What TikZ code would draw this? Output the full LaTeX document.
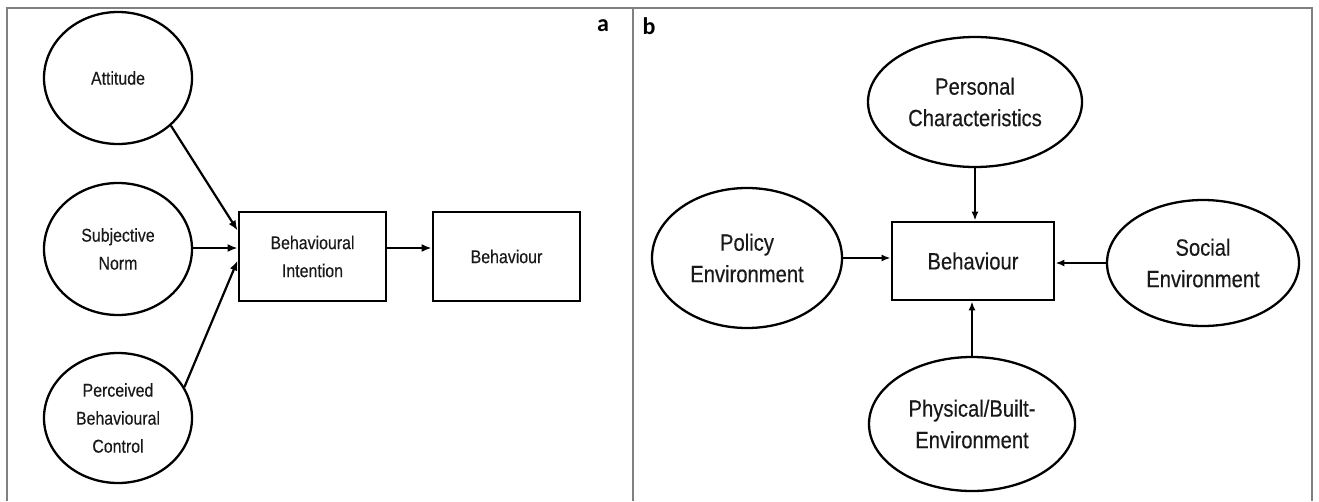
\documentclass[tikz,border=0pt]{standalone}
\usepackage{fontspec}
\setmainfont{Liberation Sans}
\newfontfamily\narrowfont[FakeStretch=0.86,FakeBold=0.35]{Liberation Sans}
\newfontfamily\panelfont{Carlito}
\usetikzlibrary{shapes.geometric,arrows.meta}
\begin{document}
\begin{tikzpicture}[x=1pt,y=-1pt,
  ell/.style={draw, ellipse, line width=2.3pt, inner sep=0pt, align=center, text=black!90},
  fa/.style={font=\narrowfont\fontsize{18.5}{28}\selectfont},
  fb/.style={font=\narrowfont\fontsize{23.5}{31.5}\selectfont},
  boxa/.style={draw, rectangle, line width=2.8pt, inner sep=0pt, align=center, text=black!90},
  arra/.style={-{Latex[length=10pt,width=8pt]}, line width=2.2pt},
  arrb/.style={-{Latex[length=9pt,width=7pt]}, line width=1.9pt},
  framestyle/.style={draw=black!50, line width=1.8pt},
  divstyle/.style={draw=black!50, line width=1.2pt},
  panellabel/.style={font=\panelfont\bfseries\fontsize{24}{24}\selectfont, inner sep=0pt}]
\useasboundingbox (0,0) rectangle (1319,501);
% frame
\draw[framestyle] (7,501) -- (7,8) -- (1312,8) -- (1312,501);
\draw[divstyle] (633,8) -- (633,501);
\node[panellabel] (la) at (603,26) {a};
\node[panellabel] (lb) at (649,26) {b};
% panel a
\node[ell, fa, minimum width=148pt, minimum height=132pt] (att) at (118,78) {Attitude};
\node[ell, fa, minimum width=148pt, minimum height=132pt] (sn) at (118,249) {Subjective\\Norm};
\node[ell, fa, minimum width=148pt, minimum height=130pt] (pbc) at (118,418) {Perceived\\Behavioural\\Control};
\node[boxa, fa, minimum width=147pt, minimum height=89pt] (bi) at (312.5,256.5) {Behavioural\\Intention};
\node[boxa, fa, minimum width=147pt, minimum height=89pt] (bha) at (506.5,256.5) {Behaviour};
\draw[arra] (att.-42) -- ([yshift=26pt]bi.west);
\draw[arra, line width=2.8pt] (sn.east |- 0,248) -- ([yshift=8.5pt]bi.west);
\draw[arra] (pbc.25) -- ([yshift=-4pt]bi.west);
\draw[arra, line width=2.8pt] ([yshift=8.5pt]bi.east) -- ([yshift=8.5pt]bha.west);
% panel b
\node[boxa, fb, minimum width=162pt, minimum height=78pt] (bhb) at (973,261) {Behaviour};
\node[ell, fb, minimum width=214pt, minimum height=130pt] (pc) at (975,102) {Personal\\Characteristics};
\node[ell, fb, minimum width=190pt, minimum height=140pt] (pol) at (747,258) {Policy\\Environment};
\node[ell, fb, minimum width=192pt, minimum height=126pt] (soc) at (1203,263) {Social\\Environment};
\node[ell, fb, minimum width=206pt, minimum height=134pt] (phy) at (972,424) {Physical/Built-\\Environment};
\draw[arrb] (pc.south) -- (pc.south |- bhb.north);
\draw[arrb, line width=2.4pt] (pol.east) -- (pol.east -| bhb.west);
\draw[arrb, line width=2.4pt] (soc.west) -- (soc.west -| bhb.east);
\draw[arrb] (phy.north) -- (phy.north |- bhb.south);
\end{tikzpicture}
\end{document}
